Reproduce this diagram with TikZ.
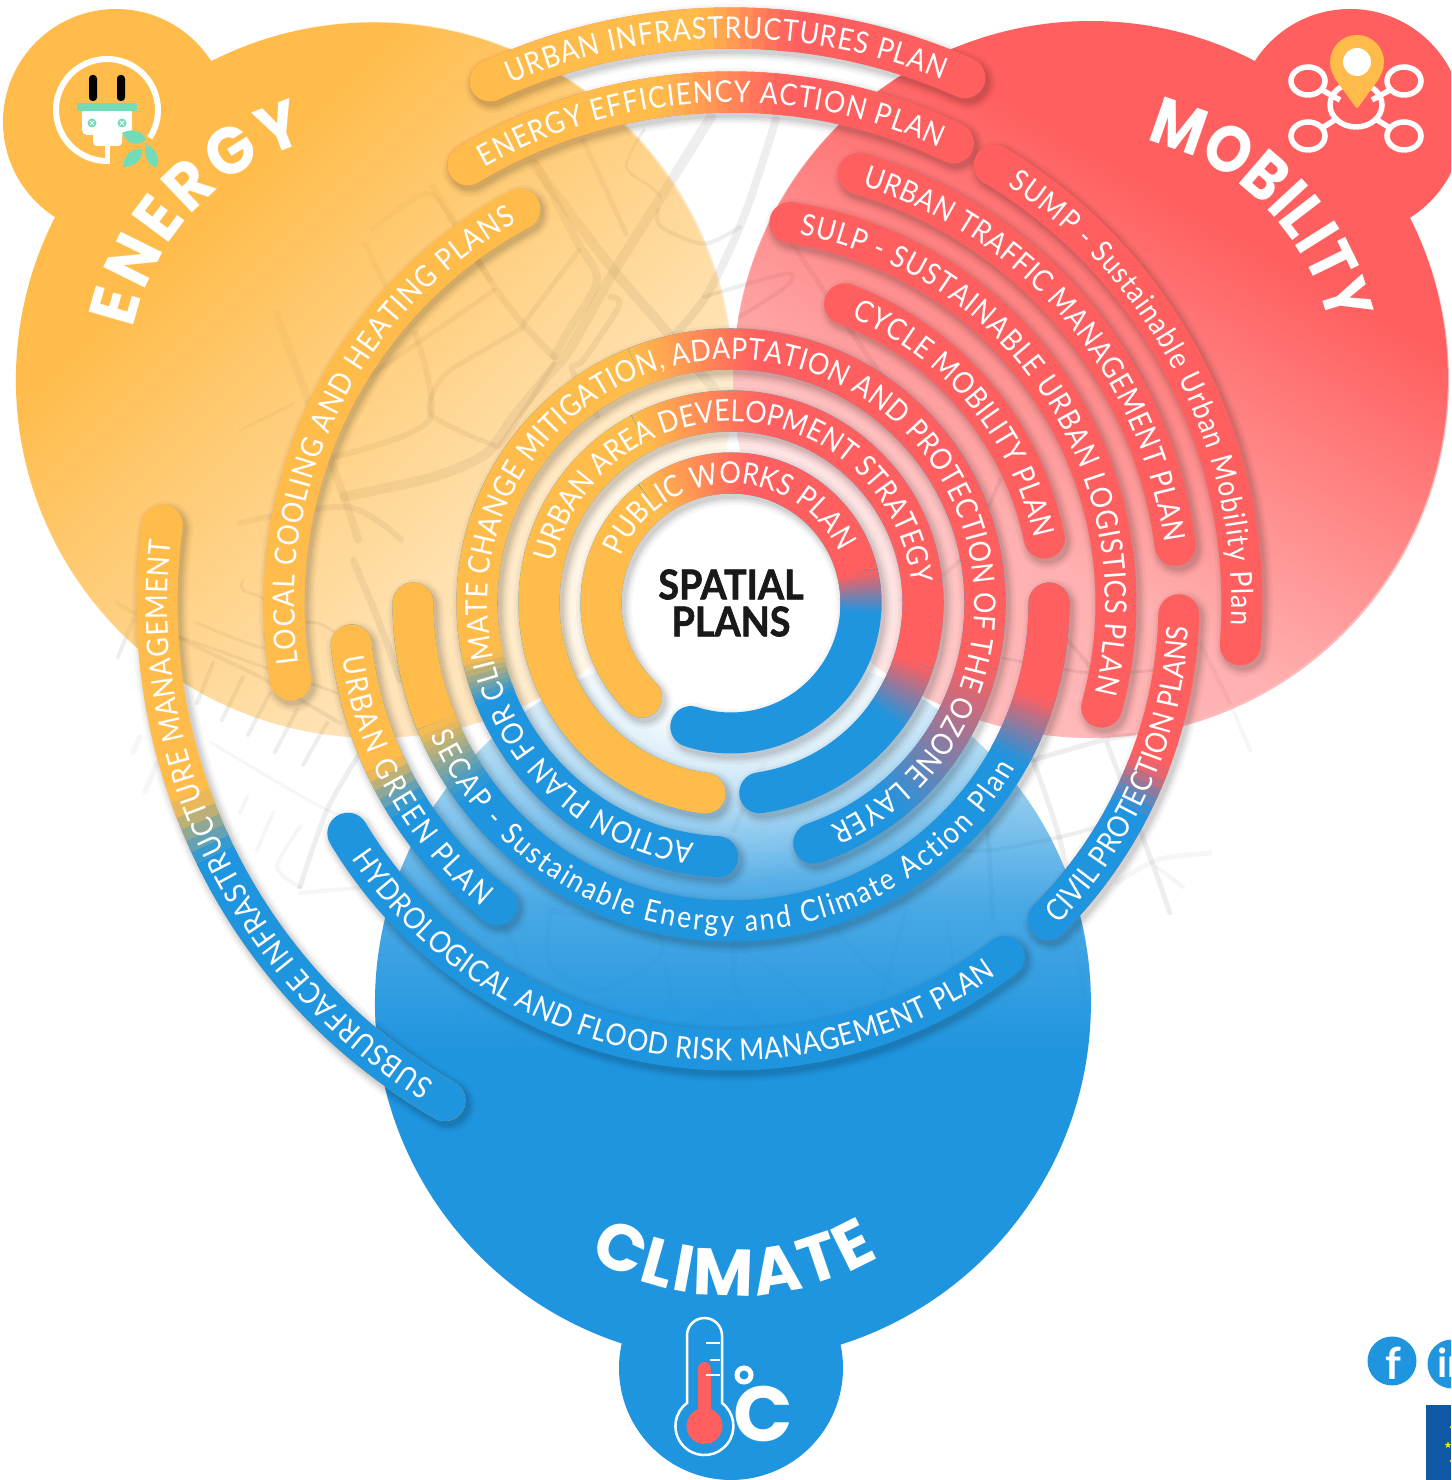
\documentclass[tikz,border=0pt]{standalone}
\usepackage{fontspec}
\usetikzlibrary{decorations.text,fadings,shapes.geometric}
\setmainfont{Lato}
\newfontfamily\headfont{Poppins}
\newfontfamily\headEn{Poppins}[FakeStretch=0.95]
\newfontfamily\headMo{Poppins}[FakeStretch=0.88]
\newfontfamily\bandf{Lato}[FakeStretch=0.89]
\newfontfamily\ctrfont{Lato}[BoldFeatures={FakeBold=1.6}]
\definecolor{colEn}{HTML}{FFBC4B}
\definecolor{colMo}{HTML}{FF5F5F}
\definecolor{colCl}{HTML}{2095DF}
\definecolor{colTe}{HTML}{74DBB9}
\definecolor{colFlag}{HTML}{0F58A6}
\newcommand\bandfont{\bandf\fontsize{30}{30}\selectfont}
\newcommand\sizeEn{\headEn\bfseries\fontsize{66}{66}\selectfont}
\newcommand\sizeMo{\headMo\bfseries\fontsize{66}{66}\selectfont}
\newcommand\sizeCl{\headfont\bfseries\fontsize{66}{66}\selectfont}
% fadings: the box of the path covers 25bp to 75bp of each shading
\pgfdeclarehorizontalshading{enshade}{100bp}{color(0bp)=(transparent!0); color(33bp)=(transparent!0); color(66bp)=(transparent!94); color(75bp)=(transparent!100); color(100bp)=(transparent!100)}
\pgfdeclarefading{enfade}{\pgfuseshading{enshade}}
\pgfdeclarehorizontalshading{moshade}{100bp}{color(0bp)=(transparent!0); color(36bp)=(transparent!0); color(62bp)=(transparent!88); color(75bp)=(transparent!100); color(100bp)=(transparent!100)}
\pgfdeclarefading{mofade}{\pgfuseshading{moshade}}
\pgfdeclareverticalshading{clshade}{100bp}{color(0bp)=(transparent!0); color(46.5bp)=(transparent!0); color(50bp)=(transparent!7); color(57bp)=(transparent!22); color(64bp)=(transparent!56); color(69.75bp)=(transparent!83); color(75bp)=(transparent!100); color(100bp)=(transparent!100)}
\pgfdeclarefading{clfade}{\pgfuseshading{clshade}}
\pgfdeclareradialshading{glowshade}{\pgfpoint{0bp}{0bp}}{color(0bp)=(transparent!0); color(10bp)=(transparent!0); color(14.5bp)=(transparent!40); color(20bp)=(transparent!80); color(25bp)=(transparent!100); color(50bp)=(transparent!100)}
\pgfdeclarefading{glowfade}{\pgfuseshading{glowshade}}
\tikzset{
  road/.style={draw=black,draw opacity=.065,line width=#1,line cap=round,line join=round},
  faint/.style={draw=black,draw opacity=.035,line width=#1,line cap=round,line join=round},
  iconline/.style={draw=white,line width=#1},
}
\newcommand\rd[2][5]{\draw[road=#1] plot[smooth,tension=.5] coordinates {#2};}
\newcommand\rf[2][5]{\draw[faint=#1] plot[smooth,tension=.5] coordinates {#2};}
% ---- arcs
\newcommand\bandshadow[3]{%
  \begin{scope}[shift={(3,-4)}]
  \foreach \e/\o in {15/.03,10/.045,6/.05,2/.06}{%
    \draw[black,opacity=\o,line width=41+\e,line cap=round] (#2:#1) arc[start angle=#2,end angle=#3,radius=#1];}
  \end{scope}}
\newcommand\sol[4]{\draw[#4,line width=41,line cap=butt] (#2:#1) arc[start angle=#2,end angle=#3,radius=#1];}
\newcommand\bcap[3]{\fill[#3] (#2:#1) circle (20.5);}
\newcommand\plainband[4]{\bandshadow{#1}{#2}{#3}\draw[#4,line width=41,line cap=round] (#2:#1) arc[start angle=#2,end angle=#3,radius=#1];}
\newcommand\seg[5]{%
  \pgfmathtruncatemacro\nn{max(1,abs(#3-#2)/1.2)}%
  \foreach \i in {1,...,\nn}{%
    \pgfmathsetmacro\aa{#2+(#3-#2)*(\i-1)/\nn}%
    \pgfmathsetmacro\bb{#2+(#3-#2)*\i/\nn+sign(#3-#2)*0.4}%
    \pgfmathsetmacro\pp{100*(\i-0.5)/\nn}%
    \draw[draw={#5!\pp!#4},line width=41,line cap=butt] (\aa:#1) arc[start angle=\aa,end angle=\bb,radius=#1];}}
\newcommand\cwtext[4]{%
  \pgfmathsetmacro\rb{#1-10.5}%
  \path[decorate,decoration={text along path,text align=fit to path,text color=white,text={|\bandfont|#4}}] (#2:\rb) arc[start angle=#2,end angle=#3,radius=\rb];}
\newcommand\ccwtext[4]{%
  \pgfmathsetmacro\rb{#1+10.5}%
  \path[decorate,decoration={text along path,text align=fit to path,text color=white,text={|\bandfont|#4}}] (#2:\rb) arc[start angle=#2,end angle=#3,radius=\rb];}
\begin{document}
\begin{tikzpicture}[x=1pt,y=1pt]
\path[use as bounding box] (0,0) rectangle (1451,1480);
\clip (0,0) rectangle (1451,1480);
\fill[white] (0,0) rectangle (1451,1480);
% ---------- pale base of the three discs
\fill[colEn,opacity=.35] (375,1100) circle (358);
\fill[colMo,opacity=.42] (1091,1100) circle (358);
\fill[colCl,opacity=.12] (733,477) circle (358);
% ---------- street texture (pixel coordinates, y downward)
\begin{scope}[shift={(0,1480)},yscale=-1]
\begin{scope}[shift={(0,6.67)},yscale=.9333]
\rd[10]{(533,168)(611,279)(665,346)(715,411)}
\rd[10]{(711,118)(661,204)(611,289)(569,368)(547,396)(511,443)(486,479)(433,504)(344,525)}
\rd[5]{(583,143)(626,243)}
\rd[8]{(776,121)(744,225)(708,307)(676,350)}
\rd[7]{(433,193)(490,293)(522,339)(554,375)}
\rd[5]{(579,261)(526,336)(519,346)(451,389)(433,414)(433,439)(490,468)(504,464)(554,382)}
\rd[5]{(494,304)(422,357)(369,396)}
\rd[6]{(415,350)(429,443)(336,482)}
\rd[8]{(276,329)(308,421)(344,525)(358,571)}
\rd[5]{(365,254)(386,300)}
\rd[5]{(372,239)(426,200)(454,232)(490,293)}
\rd[8]{(536,168)(576,250)(597,293)(569,346)(554,375)}
\rd[6]{(611,311)(619,321)(583,379)(572,389)(597,439)}
\rd[4]{(658,218)(661,236)(704,254)(740,236)}
\rd[4]{(704,311)(786,286)(786,300)(740,332)}
\rd[3]{(644,132)(626,171)(651,193)(661,204)}
\rd[3]{(240,454)(294,425)}
\rd[6]{(240,553)(347,536)(401,571)}
\end{scope}
\rd[7]{(353,560)(377,617)(400,680)}
\rd[6]{(733,626)(767,700)}
\rd[6]{(764,763)(734,830)}
\rd[5]{(790,240)(850,330)(905,410)}
\rd[4]{(900,600)(960,560)(1000,480)}
\rd[5]{(1033,760)(1103,740)(1133,735)}
\rd[5]{(1033,760)(1060,840)(1080,940)}
\rd[4]{(950,850)(993,850)(1060,837)(1097,827)}
\rd[5]{(1107,743)(1150,857)(1170,913)}
\rd[5]{(987,820)(993,920)}
\rd[4]{(1067,640)(1090,667)(1117,713)}
\rd[3]{(1003,658)(1090,673)(1157,670)}
\rf[5]{(1117,883)(1157,860)(1210,853)}
\rf[4]{(1157,867)(1183,887)}
\rf[4]{(1233,710)(1250,750)}
\rf[4]{(1200,643)(1230,703)}
\rd[4]{(1075,940)(1085,1000)}
% fishbone, lower left
\rd[4]{(117,603)(183,640)(260,677)(340,723)}
\rd[4]{(133,620)(118,657)}\rd[4]{(213,663)(197,703)}\rd[4]{(243,677)(222,720)}
\rd[4]{(270,693)(248,735)}\rd[4]{(297,710)(275,752)}\rd[4]{(327,723)(303,765)}
\rf[5]{(140,737)(133,752)}\rf[5]{(157,763)(145,792)}
\rf[3]{(210,742)(327,810)(360,813)}
\rd[5]{(360,753)(327,810)(300,887)}
\rf[4]{(247,797)(240,813)}\rf[4]{(273,813)(257,850)}\rf[4]{(300,827)(277,867)(300,887)}
\rf[4]{(300,893)(367,887)}
\rd[3]{(197,623)(263,648)(267,630)(317,623)(353,647)}
\rd[3]{(243,580)(243,590)(267,603)(267,647)}
\rd[3]{(180,637)(337,693)}
% below the centre
\begin{scope}[shift={(0,161.3)},yscale=.8167]
\rd[5]{(551,917)(549,982)(592,1015)(633,998)(661,970)(653,941)(608,929)(551,917)}
\rd[7]{(735,958)(735,1011)(763,1064)}
\rd[3]{(739,962)(808,1023)(829,1051)}
\rd[3]{(665,982)(682,1055)(731,1027)}
\rd[5]{(906,917)(882,1023)}
\rd[5]{(833,937)(886,1002)(988,1055)}
\rd[3]{(947,929)(959,1031)}
\rd[3]{(645,1109)(673,1178)}
\rd[3]{(706,1113)(739,1178)(808,1186)}
\rd[3]{(580,1121)(584,1174)(673,1178)}
\rd[3]{(461,1043)(465,1092)(563,1076)(641,1109)}
\rd[3]{(849,1104)(927,1149)}
\rd[6]{(480,900)(510,950)(540,1060)}
\end{scope}
\end{scope}
% ---------- the three discs with their bumps
\fill[colEn,path fading=enfade,fading angle=-45] (375,1100) circle (358);
\fill[colEn] (116,1358) circle (113);
\fill[colMo,path fading=mofade,fading angle=240] (1091,1100) circle (358);
\fill[colMo] (1350,1358) circle (113);
\fill[colCl,path fading=clfade] (733,477) circle (358);
\fill[colCl] (731,112) circle (112);
\fill[white,path fading=glowfade] (731,877) circle (280);
% ---------- the arcs, all around one centre
\begin{scope}[shift={(731,877)}]
% outermost
\plainband{575}{114.8}{66}{colMo}
\bcap{575}{114.8}{colEn}\sol{575}{114.8}{93}{colEn}\seg{575}{93}{84}{colEn}{colMo}
\cwtext{575}{113}{68}{URBAN INFRASTRUCTURES PLAN}
\plainband{511}{121}{64.2}{colMo}
\bcap{511}{121}{colEn}\sol{511}{121}{98}{colEn}\seg{511}{98}{84}{colEn}{colMo}
\cwtext{511}{119.5}{65.4}{ENERGY EFFICIENCY ACTION PLAN}
\plainband{447}{189.9}{118.2}{colEn}
\cwtext{447}{188}{119.4}{LOCAL COOLING AND HEATING PLANS}
\plainband{511}{59}{-4.7}{colMo}
\cwtext{511}{56.5}{-2.5}{SUMP - Sustainable Urban Mobility Plan}
\plainband{448}{73.5}{7.4}{colMo}
\cwtext{448}{72.5}{8}{URBAN TRAFFIC MANAGEMENT PLAN}
\plainband{385}{81.2}{-15.7}{colMo}
\cwtext{385}{79.5}{-13.9}{SULP - SUSTAINABLE URBAN LOGISTICS PLAN}
\plainband{320}{69.2}{11.7}{colMo}
\cwtext{320}{67}{12}{CYCLE MOBILITY PLAN}
% subsurface
\plainband{574}{240.1}{172.2}{colEn}
\bcap{574}{240.1}{colCl}\sol{574}{240.1}{206}{colCl}\seg{574}{206}{200}{colCl}{colEn}
\cwtext{574}{238.3}{173.7}{SUBSURFACE INFRASTRUCTURE MANAGEMENT}
% civil
\plainband{448}{-45}{-1.5}{colMo}
\bcap{448}{-45}{colCl}\sol{448}{-45}{-27}{colCl}\seg{448}{-27}{-21}{colCl}{colMo}
\ccwtext{448}{-44.5}{-3}{CIVIL PROTECTION PLANS}
% hydrological
\plainband{447}{211}{307.7}{colCl}
\ccwtext{447}{214}{305.5}{HYDROLOGICAL AND FLOOD RISK MANAGEMENT PLAN}
% urban green
\plainband{382}{186.3}{232.2}{colCl}
\bcap{382}{186.3}{colEn}\sol{382}{186.3}{205}{colEn}\seg{382}{205}{212}{colEn}{colCl}
\ccwtext{382}{188}{230.6}{URBAN GREEN PLAN}
% SECAP
\plainband{318}{180}{360}{colCl}
\bcap{318}{180}{colEn}\bcap{318}{360}{colMo}
\sol{318}{180}{202}{colEn}\seg{318}{202}{216}{colEn}{colCl}\seg{318}{331}{343}{colCl}{colMo}\sol{318}{343}{360}{colMo}
\ccwtext{318}{203.7}{329.8}{SECAP - Sustainable Energy and Climate Action Plan}
% climate change
\plainband{254}{267}{-71}{colCl}
\sol{254}{192}{112}{colEn}\seg{254}{202}{192}{colCl}{colEn}\seg{254}{112}{84}{colEn}{colMo}\sol{254}{84}{-14}{colMo}\seg{254}{-14}{-52}{colMo}{colCl}
\cwtext{254}{261.4}{-66}{ACTION PLAN FOR CLIMATE CHANGE MITIGATION, ADAPTATION AND PROTECTION OF THE OZONE LAYER}
% urban area
\plainband{192}{262.3}{-81.4}{colCl}
\bcap{192}{262.3}{colEn}
\sol{192}{262.3}{118}{colEn}\seg{192}{118}{80}{colEn}{colMo}\sol{192}{80}{-18}{colMo}\seg{192}{-18}{-36}{colMo}{colCl}
\cwtext{192}{167}{6.6}{URBAN AREA DEVELOPMENT STRATEGY}
% public works
\plainband{130}{226.5}{-108}{colCl}
\bcap{130}{226.5}{colEn}
\sol{130}{226.5}{128}{colEn}\seg{130}{128}{82}{colEn}{colMo}\sol{130}{82}{13}{colMo}\seg{130}{13}{-4}{colMo}{colCl}
\cwtext{130}{157}{25}{PUBLIC WORKS PLAN}
\end{scope}
% ---------- centre and headings
\node[font=\ctrfont\bfseries\fontsize{41}{37}\selectfont,text=black!90,align=center,xscale=.92,transform shape] (centre) at (731,877) {SPATIAL\\PLANS};
\path[decorate,decoration={text along path,text align=fit to path,text color=white,text={|\sizeEn|ENERGY}}] ([shift={(168:247)}]375,1100) arc[start angle=168,end angle=106,radius=247];
\path[decorate,decoration={text along path,text align=fit to path,text color=white,text={|\sizeMo|MOBILITY}}] ([shift={(77:245)}]1091,1100) arc[start angle=77,end angle=13,radius=245];
\path[decorate,decoration={text along path,text align=fit to path,text color=white,text={|\sizeCl|CLIMATE}}] ([shift={(240.5:293)}]733,477) arc[start angle=240.5,end angle=300,radius=293];
% ---------- icons (pixel coordinates, y downward)
\begin{scope}[shift={(0,1480)},yscale=-1]
% plug
\draw[iconline=6] (107,110) ++(33:51) arc[start angle=33,end angle=-270,radius=51];
\draw[iconline=5] (107,143) -- (107,164);
\fill[black,rounded corners=3.5] (89,101) -- (89,75) -- (97,75) -- (97,101) -- cycle;
\fill[black,rounded corners=3.5] (117,101) -- (117,75) -- (125,75) -- (125,101) -- cycle;
\fill[white,rounded corners=5] (82,108) -- (132,108) -- (132,135) -- (82,135) -- cycle;
\fill[white,rounded corners=4] (93,125) -- (122,125) -- (122,146) -- (93,146) -- cycle;
\fill[colTe] (77,103) rectangle (137,111);
\foreach \sx in {92,122}{\fill[colTe] (\sx,123) circle (4.5);
  \draw[white,line width=.8] (\sx-2,121) -- (\sx+2,125) (\sx-2,125) -- (\sx+2,121);}
\fill[colTe] (122,133) .. controls (132,128) and (142,130) .. (146,140) .. controls (138,146) and (128,146) .. (122,133) -- cycle;
\fill[colTe] (123,167) .. controls (124,156) and (130,148) .. (142,149) .. controls (143,160) and (135,167) .. (123,167) -- cycle;
\fill[colTe] (146,144) .. controls (155,148) and (162,158) .. (156,168) .. controls (147,164) and (143,154) .. (146,144) -- cycle;
% network with pin
\foreach \sx/\sy in {1308/81,1404/81,1308/136,1404/136}{\draw[iconline=5.5] (\sx,\sy) ellipse (17 and 14);}
\draw[iconline=5.5] (1322,90) -- (1340,100) (1390,90) -- (1372,100) (1322,128) -- (1338,118) (1390,128) -- (1374,118);
\draw[iconline=5.5] (1356,105) ellipse (26 and 22);
\fill[colEn,rounded corners=2] (1333,76) -- (1357,109) -- (1381,76) -- (1370,50) -- (1344,50) -- cycle;
\fill[colEn] (1357,62) circle (27);
\fill[white] (1357,62) circle (14);
% thermometer
\draw[iconline=2.5] (687,1403) -- (687,1335.5) arc[start angle=180,end angle=360,radius=17.5] -- (722,1403) arc[start angle=-52.7,end angle=232.7,radius=29] -- cycle;
\draw[iconline=2.5] (706,1343) -- (720,1343) (710,1360) -- (720,1360) (706,1375) -- (720,1375);
\fill[colMo] (704.5,1426) circle (18);
\draw[colMo,line width=13,line cap=round] (704.5,1420) -- (704.5,1368.5);
\draw[iconline=2.5] (706,1375) -- (712,1375);
\draw[iconline=5] (744,1375) circle (7);
\node[text=white,font=\headfont\bfseries\fontsize{78}{78}\selectfont,inner sep=0] (degC) at (763,1414) {C};
% social and flag
\fill[colCl] (1392,1361) circle (24.5);
\fill[colCl] (1452,1364) circle (24.5);
\node[text=white,font=\bfseries\fontsize{44}{44}\selectfont,inner sep=0] (fb) at (1393,1363) {f};
\node[text=white,font=\bfseries\fontsize{40}{40}\selectfont,inner sep=0,anchor=west] (li) at (1437,1363) {in};
\fill[colFlag] (1426,1405) rectangle (1451,1480);
\node[star,star points=5,star point ratio=2.4,fill=yellow!90!orange,minimum size=7,inner sep=0] (s1) at (1448,1445) {};
\fill[yellow!80!orange] (1451,1427) circle (1.5) (1451,1461) circle (1.5);
\end{scope}
\end{tikzpicture}
\end{document}
